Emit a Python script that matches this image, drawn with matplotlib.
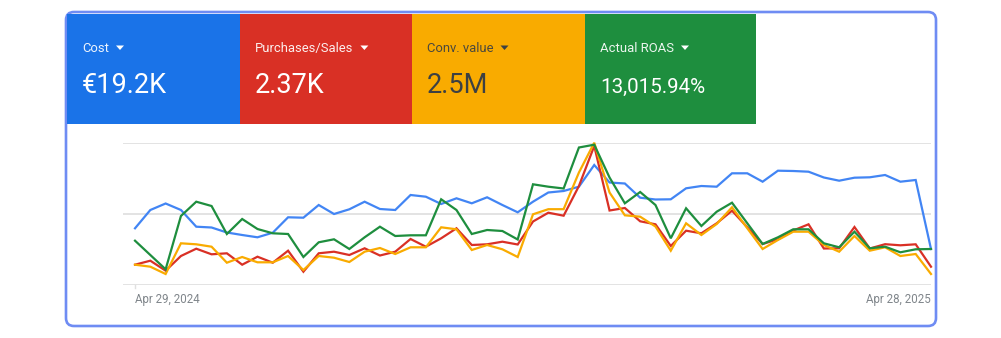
import numpy as np
import matplotlib
matplotlib.use("Agg")
from matplotlib import pyplot as plt
from matplotlib.patches import Rectangle, FancyBboxPatch, Polygon

plt.rcParams['font.family'] = ['Roboto', 'DejaVu Sans']

# weekly series, relative scale (0 = lower gridline, 142 = upper gridline)
weeks = np.arange(53)
date_labels = ["Apr 29, 2024", "Apr 28, 2025"]

cost = [56.7, 75, 81.5, 75, 58.3, 57.5, 52.5, 50, 47.7, 52.3, 67.7, 67.3, 80, 71,
        75.7, 83.3, 76, 75, 90, 88.3, 81, 86.7, 81.7, 87.7, 80, 72.7, 83.3, 92.5,
        94, 98.3, 120, 102.5, 101.5, 87.3, 85.5, 85.7, 96.7, 99, 98.3, 111.7, 111.7,
        103.3, 114.3, 114, 113.3, 107.5, 104.3, 107.3, 107.7, 110, 103.3, 105, 36]
purchases = [20.3, 24.3, 14.3, 29, 36.3, 30.7, 31.7, 20.3, 28.3, 22.3, 34.3, 13.3,
             31.7, 33.3, 30, 36.7, 29.5, 33.3, 46, 38.3, 46.7, 56.7, 40, 40.7, 43.3,
             40.5, 63.5, 72.3, 69.3, 99, 139, 74.5, 77, 63.7, 60.7, 39, 54.3, 51.7,
             61.7, 74.3, 57.7, 41, 45.7, 54.5, 60.7, 36.5, 36.7, 58, 36.5, 40.8, 39.7,
             40.7, 18.3]
conv_value = [20.3, 18.3, 11, 41.7, 40.7, 38.3, 22.3, 28, 22.7, 22.7, 29, 15, 29,
              27.3, 23, 33.3, 37, 31, 37.7, 37.7, 57.7, 55.7, 35, 40, 35.7, 28, 70.7,
              75.8, 75.8, 112.5, 142.3, 92.5, 69.7, 68.3, 58.5, 34.3, 61.7, 50, 61,
              77.7, 56.7, 36, 45, 53.3, 53.3, 40, 33.3, 49, 34.3, 37.7, 29, 31, 11]
roas = [44.3, 30, 15.7, 69, 83.3, 79, 51, 66, 56, 51.7, 51, 28, 42.7, 45.7, 36, 47.7,
        58.3, 49, 49.7, 49.7, 85.7, 75, 51, 55, 54, 45.5, 100.7, 98.3, 96.5, 137.5,
        140.3, 107.5, 81.7, 93, 80, 46.7, 76.7, 59, 73.3, 82.3, 61.7, 41, 47.7, 55.7,
        55.7, 41.7, 37.7, 53.3, 36.7, 38.3, 32.7, 35.7, 36]

tile_names = ["Cost", "Purchases/Sales", "Conv. value", "Actual ROAS"]
tile_values = ["€19.2K", "2.37K", "2.5M", "13,015.94%"]
value_sizes = [19.5, 19.5, 19.5, 14.8]
tile_colors = ['#1a73e8', '#d93025', '#f9ab00', '#1e8e3e']
tile_text = ['white', 'white', '#3c4043', 'white']
line_colors = ['#4285f4', '#d93025', '#f9ab00', '#1e8e3e']

W, H = 1001, 338
fig = plt.figure(figsize=(W / 100, H / 100), dpi=100, facecolor='white')

# background layer in pixel units for the card and the metric tiles
bg = fig.add_axes([0, 0, 1, 1])
bg.set_xlim(0, W)
bg.set_ylim(H, 0)
bg.axis('off')

card = FancyBboxPatch((66, 12), 870, 314, boxstyle="round,pad=0,rounding_size=8",
                      fc='white', ec='#6f8cf3', lw=1.9)
bg.add_patch(card)

renderer = fig.canvas.get_renderer()
tile_edges = [67, 240, 412, 585, 756]
for i in range(4):
    x0, x1 = tile_edges[i], tile_edges[i + 1]
    bg.add_patch(Rectangle((x0, 14), x1 - x0, 110, fc=tile_colors[i], ec='none'))
    lab = bg.text(x0 + 15, 52, tile_names[i], color=tile_text[i], fontsize=9.4,
                  va='baseline', ha='left', alpha=0.92)
    bg.text(x0 + 15, 93, tile_values[i], color=tile_text[i], fontsize=value_sizes[i],
            va='baseline', ha='left')
    # dropdown caret after the label
    ext = lab.get_window_extent(renderer)
    tx = ext.x1 + 7
    bg.add_patch(Polygon([(tx, 45.5), (tx + 8, 45.5), (tx + 4, 50)], closed=True,
                         fc=tile_text[i], ec='none'))

# line chart
ax = fig.add_axes([123 / W, (H - 285) / H, (931 - 123) / W, 142 / H])
ax.set_xlim(-0.785, 52.0)
ax.set_ylim(0, 142)
ax.axis('off')
for y in (0, 71, 142):
    ax.axhline(y, color='#e0e0e0', lw=1.3, zorder=1)
ax.plot([0, 0], [0, -3], color='#e0e0e0', lw=1.0, clip_on=False)

for series, c in zip([cost, purchases, conv_value, roas], line_colors):
    ax.plot(weeks, series, color=c, lw=1.6, clip_on=False, zorder=3,
            solid_joinstyle='miter')

ax.text(0, -14, date_labels[0], color='#80868b', fontsize=8.3, ha='left', va='center')
ax.text(52, -14, date_labels[1], color='#80868b', fontsize=8.3, ha='right', va='center')

fig.savefig('out.png', dpi=100, facecolor='white')
